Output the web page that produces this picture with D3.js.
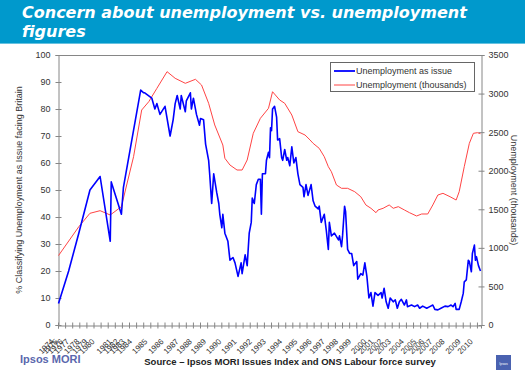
<!DOCTYPE html>
<html><head><meta charset="utf-8">
<script src="https://cdn.jsdelivr.net/npm/d3@7"></script>
<style>
body{margin:0;background:#fff;}
svg{display:block;font-family:"Liberation Sans",Arial,sans-serif;}
</style></head>
<body><svg id="c" width="525" height="372"></svg>
<script>
const titleLines = ["Concern about unemployment vs. unemployment", "figures"];
const seriesNames = ["Unemployment as issue", "Unemployment (thousands)"];
const leftTitle = "% Classifying Unemployment as Issue facing Britain";
const rightTitle = "Unemployment (thousands)";
const sourceText = "Source \u2013 Ipsos MORI Issues Index and ONS Labour force survey";
const brand = "Ipsos MORI";
const nCategories = 417;
const tickEvery = 7;
const leftTicks = [0,10,20,30,40,50,60,70,80,90,100];
const rightTicks = [0,500,1000,1500,2000,2500,3000,3500];
const years = [1974,1975,1976,1977,1978,1979,1980,1981,1982,1983,1984,1985,1986,1987,1988,1989,1990,1991,1992,1993,1994,1995,1996,1997,1998,1999,2000,2001,2002,2003,2004,2005,2006,2007,2008,2009,2010];
const yearIdx = [0,4,9,15,25,33,40,57,64,70,77,92,108,123,136,150,165,180,195,209,225,240,254,267,280,293,308,315,324,332,345,357,365,373,385,401,413];

// Unemployment as issue (% , left axis) — category index and value
const issueIdx = [0,10,20,31,41,51,52,62,64,81,84,85,92,95,97,100,105,110,113,115,117,120,121,125,126,130,131,133,136,139,140,143,145,148,149,151,153,156,158,159,161,162,164,167,169,172,174,177,180,181,184,186,188,190,191,193,195,197,199,200,201,204,205,207,208,209,210,211,213,215,216,218,220,221,223,225,226,228,230,232,234,236,238,241,242,244,246,249,251,253,256,257,259,262,264,266,267,269,272,276,277,279,280,282,283,285,287,289,291,294,295,298,300,302,304,306,308,310,312,315,318,319,321,323,325,327,330,332,334,336,338,341,343,344,348,351,354,356,359,363,366,369,371,374,377,381,384,387,389,391,392,395,397,399,400,402,404,405,407,408,410,411,412,414,416];
const issueVal = [8,20,34,50,55,31,53,41,51,87,86,86,84,80,82,78,81,70,76,82,85,80,85,79,83,86,80,84,78,74,76.5,76,67,61,56,45,56,49,45,41,36,41,34,31,24,25,23,18,23,19,26,22,34,38,47,45,52,54,54,41,56,56,61,64,62,73,72,80,81,77,68.5,69,62,61,65,61,62,59,66,60,62,56,52,51,47.5,52,48,52,46,44,43,44,38,41,35,28,38,33,34,31.5,33,29,33,44,42,28,26.5,26.5,22,23.5,17,19,18.5,23,18,10,12,7,12,11,12,10,13.6,8.6,6.2,10,8.6,9.3,6.2,8.6,9.5,7.4,9.3,6.8,7.4,6.8,7.4,6.2,7,6.2,6.8,7.4,5.8,5.6,6.2,7,6.8,7.4,6.8,8,5.8,5.8,8.6,11.7,16,16.7,24,23.5,19.7,26.5,29.6,24,25.3,22,20];

// Unemployment (thousands, right axis)
const unempIdx = [0,20,31,41,51,62,74,82,89,97,107,115,125,135,141,148,154,162,164,169,176,181,186,192,199,207,211,218,223,230,236,243,248,251,257,262,266,269,274,279,285,292,298,303,308,313,315,320,326,330,335,341,346,353,358,364,369,374,379,386,392,395,400,405,409,413,416];
const unempVal = [900,1274,1448,1482,1426,1534,2182,2787,2895,3068,3284,3198,3133,3185,3111,2874,2593,2333,2161,2074,2009,2009,2139,2485,2679,2809,3024,2917,2874,2722,2506,2463,2398,2355,2290,2182,2052,1987,1815,1772,1772,1728,1663,1556,1513,1456,1491,1513,1556,1513,1534,1491,1456,1413,1439,1439,1556,1685,1707,1663,1620,1728,2052,2355,2485,2493,2480];

const svg = d3.select("#c");
const L = 58, R = 481, T = 55, B = 325;
const x = d3.scaleLinear().domain([0, nCategories]).range([L, R]);
const yL = d3.scaleLinear().domain([0, 100]).range([B, T]);
const yR = d3.scaleLinear().domain([0, 3500]).range([B, T]);
const axisCol = "#868686", txtCol = "#333";

// banner
svg.append("rect").attr("x",0).attr("y",0).attr("width",525).attr("height",43).attr("fill","#0099cc");
svg.append("line").attr("x1",0).attr("x2",525).attr("y1",43.5).attr("y2",43.5).attr("stroke","#66c2e0").attr("stroke-width",1);
titleLines.forEach((t,i)=>{
  svg.append("text").attr("x",22).attr("y",17.5+i*19).text(t)
    .attr("fill","#fff").attr("font-size",16).attr("font-weight","bold").attr("font-style","italic")
    .attr("font-family","'DejaVu Sans',Verdana,sans-serif");
});

// plot border
svg.append("line").attr("x1",L).attr("x2",R).attr("y1",T+0.5).attr("y2",T+0.5).attr("stroke",axisCol);

// left axis
const gL = svg.append("g").attr("transform",`translate(${L+0.5},0)`)
  .call(d3.axisLeft(yL).tickValues(leftTicks).tickSize(3).tickPadding(5));
gL.selectAll(".tick line").attr("x2",3).attr("x1",-3);
// right axis
const gR = svg.append("g").attr("transform",`translate(${R+0.5},0)`)
  .call(d3.axisRight(yR).tickValues(rightTicks).tickFormat(d3.format("d")).tickSize(3).tickPadding(4));
gR.selectAll(".tick line").attr("x1",-3).attr("x2",3);
// bottom axis
const tickCats = d3.range(0, nCategories, tickEvery);
const gB = svg.append("g").attr("transform",`translate(0,${B+0.5})`)
  .call(d3.axisBottom(x).tickValues(tickCats).tickSize(3).tickFormat(""));
gB.selectAll(".tick line").attr("y1",-3).attr("y2",3);

[gL,gR,gB].forEach(g=>{
  g.select(".domain").attr("stroke",axisCol);
  g.selectAll(".tick line").attr("stroke",axisCol);
  g.selectAll("text").attr("fill",txtCol).attr("font-size",9).attr("font-family","'Liberation Sans',Arial,sans-serif");
});

// year labels
const labOff = 6;
svg.append("g").selectAll("text").data(years).join("text")
  .attr("transform",(d,i)=>`translate(${x(yearIdx[i]+0.5)-labOff},340) rotate(-45)`)
  .attr("text-anchor","end").attr("dy","0.35em")
  .attr("font-size",8).attr("fill",txtCol).text(d=>d);

// axis titles
svg.append("text").attr("transform",`translate(22,${(T+B)/2}) rotate(-90)`).attr("text-anchor","middle")
  .attr("font-size",9).attr("fill",txtCol).text(leftTitle);
svg.append("text").attr("transform",`translate(511,${(T+B)/2}) rotate(90)`).attr("text-anchor","middle")
  .attr("font-size",9).attr("fill",txtCol).text(rightTitle);

// lines
const lineL = d3.line().x((d,i)=>x(issueIdx[i]+0.5)).y(d=>yL(d));
const lineR = d3.line().x((d,i)=>x(unempIdx[i]+0.5)).y(d=>yR(d));
svg.append("path").attr("d",lineR(unempVal)).attr("fill","none").attr("stroke","#ff4444").attr("stroke-width",1);
svg.append("path").attr("d",lineL(issueVal)).attr("fill","none").attr("stroke","#0000ff").attr("stroke-width",1.6).attr("stroke-linejoin","round");

// legend
const lg = svg.append("g");
lg.append("rect").attr("x",330.5).attr("y",62.5).attr("width",144).attr("height",29).attr("fill","#fff").attr("stroke","#666");
const legCols = ["#0000ff","#ff4444"], legW = [1.8,1];
seriesNames.forEach((n,i)=>{
  lg.append("line").attr("x1",334).attr("x2",355).attr("y1",71+i*14).attr("y2",71+i*14).attr("stroke",legCols[i]).attr("stroke-width",legW[i]);
  lg.append("text").attr("x",356).attr("y",71+i*14).attr("dy","0.35em").attr("font-size",9).attr("fill",txtCol).text(n);
});

// footer
svg.append("text").attr("x",20).attr("y",363).attr("font-size",11).attr("font-weight","bold").attr("fill","#5a67ad").text(brand);
svg.append("text").attr("x",290).attr("y",365).attr("text-anchor","middle").attr("font-size",9.5).attr("font-weight","bold").attr("fill","#222").text(sourceText);
svg.append("rect").attr("x",496).attr("y",355).attr("width",15).attr("height",15).attr("fill","#4a62b0");
svg.append("text").attr("x",503.5).attr("y",365).attr("text-anchor","middle").attr("font-size",3.5).attr("fill","#fff").text("Ipsos");
</script></body></html>
